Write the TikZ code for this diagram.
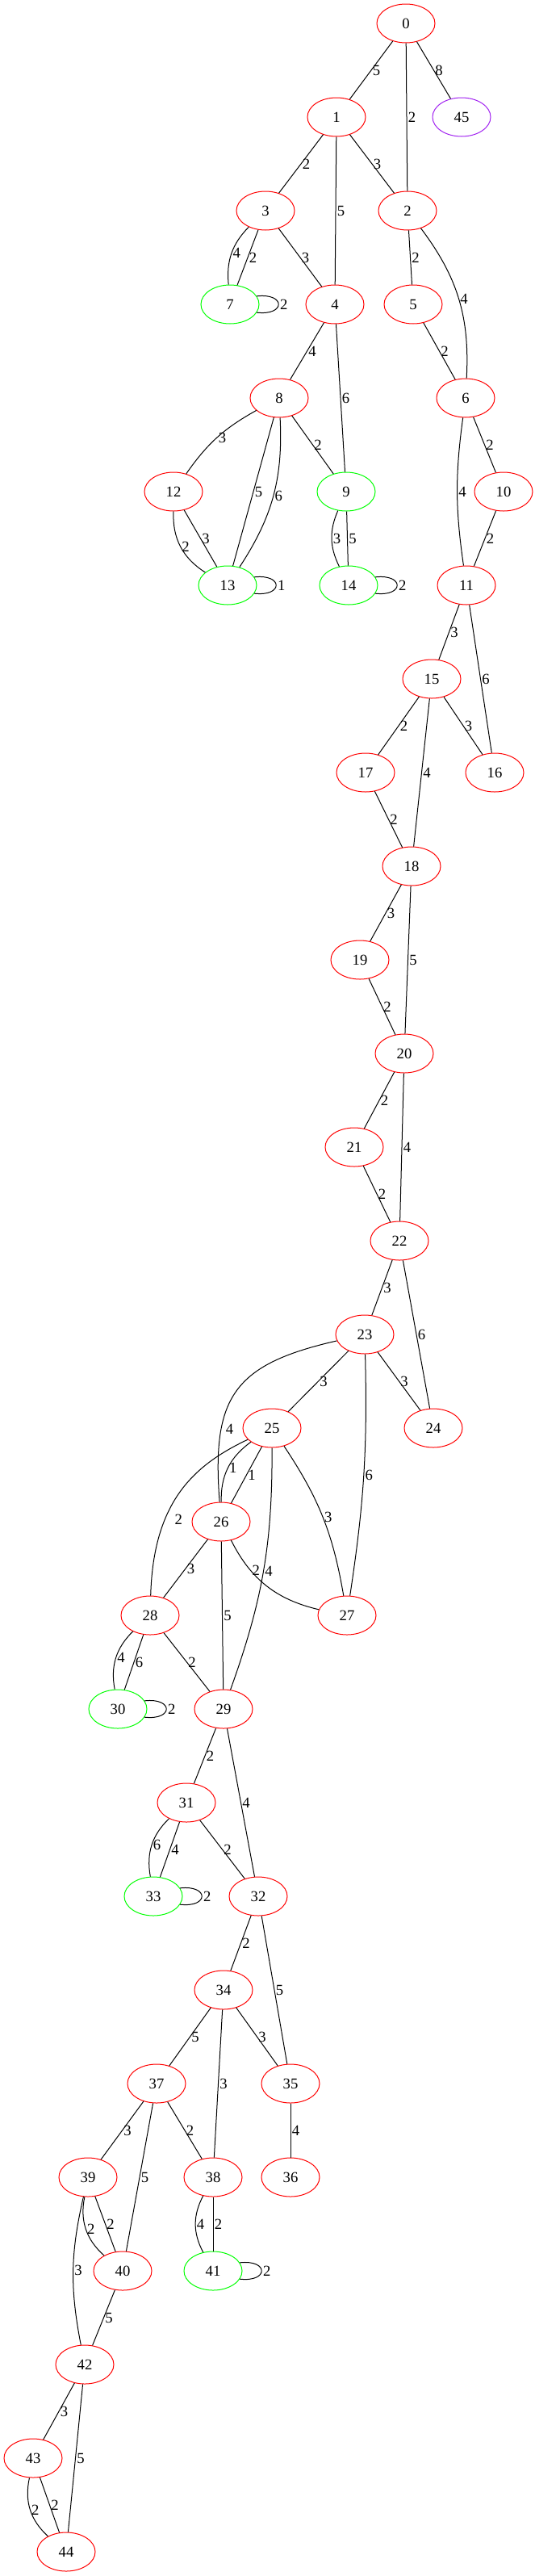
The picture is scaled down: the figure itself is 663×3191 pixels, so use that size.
\documentclass[tikz,border=0pt]{standalone}
\usepackage{fontspec}
\setmainfont{Liberation Serif}
\usetikzlibrary{shapes.geometric}
\definecolor{vpurple}{HTML}{A020F0}
\tikzset{
  vtx/.style={ellipse, draw=red, line width=0.75pt, minimum width=54pt, minimum height=36pt, inner sep=0pt, font=\fontsize{14}{16}\selectfont},
  goal/.style={vtx, draw=green},
  lone/.style={vtx, draw=vpurple},
  elab/.style={anchor=west, inner sep=1pt, font=\fontsize{14}{16}\selectfont},
}
\begin{document}
\begin{tikzpicture}[x=0.75pt, y=0.75pt, line width=0.75pt]
				\useasboundingbox (0,0) rectangle (663,-3191);
				% 1. 节点
				\node[vtx]  (n0)  at (503,-29)   {0};
				\node[vtx]  (n1)  at (417,-145)  {1};
				\node[lone] (n45) at (572,-145)  {45};
				\node[vtx]  (n3)  at (329,-261)  {3};
				\node[vtx]  (n2)  at (505,-261)  {2};
				\node[goal] (n7)  at (285,-377)  {7};
				\node[vtx]  (n4)  at (415,-377)  {4};
				\node[vtx]  (n5)  at (512,-377)  {5};
				\node[vtx]  (n8)  at (346,-493)  {8};
				\node[vtx]  (n6)  at (577,-493)  {6};
				\node[vtx]  (n12) at (215,-609)  {12};
				\node[goal] (n9)  at (429,-609)  {9};
				\node[vtx]  (n10) at (624,-609)  {10};
				\node[goal] (n13) at (282,-725)  {13};
				\node[goal] (n14) at (432,-725)  {14};
				\node[vtx]  (n11) at (578,-725)  {11};
				\node[vtx]  (n15) at (535,-841)  {15};
				\node[vtx]  (n17) at (453,-957)  {17};
				\node[vtx]  (n16) at (613,-957)  {16};
				\node[vtx]  (n18) at (510,-1073) {18};
				\node[vtx]  (n19) at (446,-1189) {19};
				\node[vtx]  (n20) at (501,-1305) {20};
				\node[vtx]  (n21) at (439,-1421) {21};
				\node[vtx]  (n22) at (495,-1537) {22};
				\node[vtx]  (n23) at (452,-1653) {23};
				\node[vtx]  (n25) at (337,-1769) {25};
				\node[vtx]  (n24) at (537,-1769) {24};
				\node[vtx]  (n26) at (274,-1885) {26};
				\node[vtx]  (n28) at (186,-2001) {28};
				\node[vtx]  (n27) at (430,-2001) {27};
				\node[goal] (n30) at (146,-2117) {30};
				\node[vtx]  (n29) at (277,-2117) {29};
				\node[vtx]  (n31) at (231,-2233) {31};
				\node[goal] (n33) at (190,-2349) {33};
				\node[vtx]  (n32) at (320,-2349) {32};
				\node[vtx]  (n34) at (277,-2465) {34};
				\node[vtx]  (n37) at (194,-2581) {37};
				\node[vtx]  (n35) at (360,-2581) {35};
				\node[vtx]  (n39) at (109,-2697) {39};
				\node[vtx]  (n38) at (264,-2697) {38};
				\node[vtx]  (n36) at (360,-2697) {36};
				\node[vtx]  (n40) at (152,-2813) {40};
				\node[goal] (n41) at (264,-2813) {41};
				\node[vtx]  (n42) at (105,-2929) {42};
				\node[vtx]  (n43) at (41,-3045)  {43};
				\node[vtx]  (n44) at (82,-3161)  {44};
				
				% 2. 边与权重
				\draw (n0) -- node[elab] {5} (n1);
				\draw (n0) -- node[elab] {2} (n2);
				\draw (n0) -- node[elab] {8} (n45);
				\draw (n1) -- node[elab] {2} (n3);
				\draw (n1) -- node[elab] {5} (n4);
				\draw (n1) -- node[elab] {3} (n2);
				\draw (n3) to[bend right=25] node[elab] {4} (n7);
				\draw (n3) -- node[elab] {2} (n7);
				\draw (n3) -- node[elab] {3} (n4);
				\draw (n2) -- node[elab] {2} (n5);
				\draw (n2) to[bend left=20] node[elab] {4} (n6);
				\draw (n4) -- node[elab] {4} (n8);
				\draw (n4) -- node[elab] {6} (n9);
				\draw (n5) -- node[elab] {2} (n6);
				\draw (n8) to[bend right=13] node[elab] {3} (n12);
				\draw (n8) -- node[elab] {5} (n13);
				\draw (n8) to[bend left=18] node[elab] {6} (n13);
				\draw (n8) -- node[elab] {2} (n9);
				\draw (n6) to[bend right=8] node[elab] {4} (n11);
				\draw (n6) -- node[elab] {2} (n10);
				\draw (n12) to[bend right=30] node[elab] {2} (n13);
				\draw (n12) -- node[elab] {3} (n13);
				\draw (n9) to[bend right=25] node[elab] {3} (n14);
				\draw (n9) -- node[elab] {5} (n14);
				\draw (n10) -- node[elab] {2} (n11);
				\draw (n11) -- node[elab] {3} (n15);
				\draw (n11) -- node[elab] {6} (n16);
				\draw (n15) -- node[elab] {2} (n17);
				\draw (n15) -- node[elab] {4} (n18);
				\draw (n15) -- node[elab] {3} (n16);
				\draw (n17) -- node[elab] {2} (n18);
				\draw (n18) -- node[elab] {3} (n19);
				\draw (n18) -- node[elab] {5} (n20);
				\draw (n19) -- node[elab] {2} (n20);
				\draw (n20) -- node[elab] {2} (n21);
				\draw (n20) -- node[elab] {4} (n22);
				\draw (n21) -- node[elab] {2} (n22);
				\draw (n22) -- node[elab] {3} (n23);
				\draw (n22) -- node[elab] {6} (n24);
				\draw (n23) -- node[elab] {3} (n25);
				\draw (n23) -- node[elab] {3} (n24);
				\draw (n23) .. controls (290,-1690) and (262,-1730) .. (n26) node[elab, pos=.72, xshift=3pt] {4};
				\draw (n23) to[bend left=5] node[elab] {6} (n27);
				\draw (n25) to[bend right=28] node[elab] {1} (n26);
				\draw (n25) -- node[elab] {1} (n26);
				\draw (n25) .. controls (240,-1815) and (190,-1860) .. (n28) node[elab, pos=.67, xshift=8pt] {2};
				\draw (n25) to[bend left=10] node[elab] {4} (n29);
				\draw (n25) to[bend left=12] node[elab] {3} (n27);
				\draw (n26) -- node[elab] {3} (n28);
				\draw (n26) -- node[elab] {5} (n29);
				\draw (n26) to[bend right=25] node[elab, pos=.3] {2} (n27);
				\draw (n28) to[bend right=28] node[elab] {4} (n30);
				\draw (n28) -- node[elab] {6} (n30);
				\draw (n28) -- node[elab] {2} (n29);
				\draw (n29) -- node[elab] {2} (n31);
				\draw (n29) -- node[elab] {4} (n32);
				\draw (n31) to[bend right=28] node[elab] {6} (n33);
				\draw (n31) -- node[elab] {4} (n33);
				\draw (n31) -- node[elab] {2} (n32);
				\draw (n32) -- node[elab] {2} (n34);
				\draw (n32) -- node[elab] {5} (n35);
				\draw (n34) -- node[elab] {5} (n37);
				\draw (n34) -- node[elab] {3} (n35);
				\draw (n34) -- node[elab] {3} (n38);
				\draw (n35) -- node[elab] {4} (n36);
				\draw (n37) -- node[elab] {3} (n39);
				\draw (n37) -- node[elab] {5} (n40);
				\draw (n37) -- node[elab] {2} (n38);
				\draw (n39) to[bend right=30] node[elab] {2} (n40);
				\draw (n39) -- node[elab] {2} (n40);
				\draw (n39) to[bend right=12] node[elab] {3} (n42);
				\draw (n38) to[bend right=28] node[elab] {4} (n41);
				\draw (n38) -- node[elab] {2} (n41);
				\draw (n40) -- node[elab] {5} (n42);
				\draw (n42) -- node[elab] {3} (n43);
				\draw (n42) -- node[elab] {5} (n44);
				\draw (n43) to[bend right=30] node[elab] {2} (n44);
				\draw (n43) -- node[elab] {2} (n44);
				
				% 3. 自环
				\draw (n7.17) .. controls +(36,4) and +(36,-4) .. (n7.-17) node[elab, pos=.5] {2};
				\draw (n13.17) .. controls +(36,4) and +(36,-4) .. (n13.-17) node[elab, pos=.5] {1};
				\draw (n14.17) .. controls +(36,4) and +(36,-4) .. (n14.-17) node[elab, pos=.5] {2};
				\draw (n30.17) .. controls +(36,4) and +(36,-4) .. (n30.-17) node[elab, pos=.5] {2};
				\draw (n33.17) .. controls +(36,4) and +(36,-4) .. (n33.-17) node[elab, pos=.5] {2};
				\draw (n41.17) .. controls +(36,4) and +(36,-4) .. (n41.-17) node[elab, pos=.5] {2};
			\end{tikzpicture}
\end{document}
